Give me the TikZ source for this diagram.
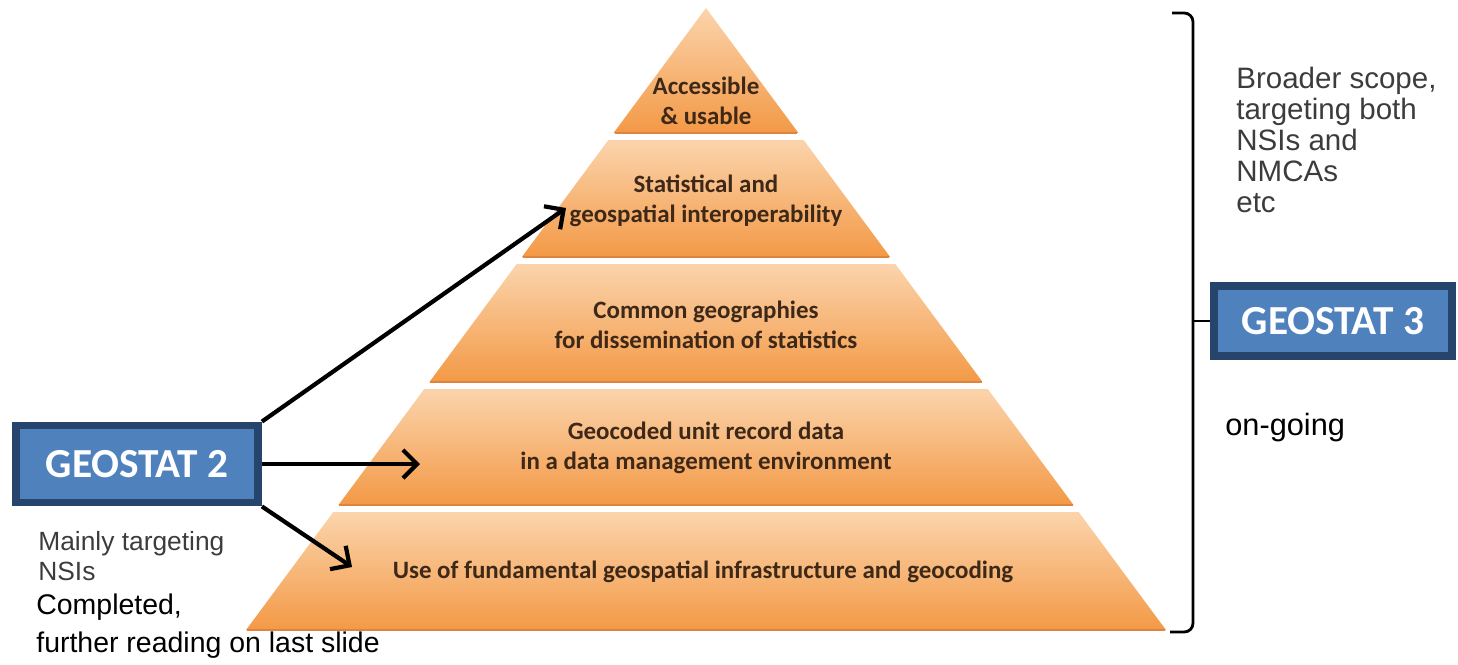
\documentclass[tikz,border=0pt]{standalone}
\usepackage{fontspec}
\setmainfont{Liberation Sans}
\newfontfamily\calfont{Carlito}
\usetikzlibrary{arrows.meta,positioning}

\definecolor{bandtop}{RGB}{251,212,172}
\definecolor{bandmid}{RGB}{247,176,104}
\definecolor{bandbot}{RGB}{243,153,70}
\definecolor{bandedge}{RGB}{222,132,60}
\definecolor{bandtxt}{RGB}{62,40,24}
\definecolor{geofill}{RGB}{79,129,189}
\definecolor{geoline}{RGB}{38,68,108}
\definecolor{notegray}{RGB}{60,60,60}

\begin{document}
\begin{tikzpicture}[x=0.02cm,y=-0.02cm,
  band/.style={top color=bandtop, middle color=bandmid, bottom color=bandbot, draw=none},
  bandtext/.style={font=\calfont\bfseries\fontsize{14.2}{17}\selectfont, text=bandtxt, align=center},
  geobox/.style={draw=geoline, line width=4.5pt, fill=geofill, text=white, inner sep=0pt,
    font=\calfont\bfseries\fontsize{23.5}{28}\selectfont},
  link/.style={-{Straight Barb[length=8pt,width=16pt]}, line width=2.4pt},
  note/.style={align=left, anchor=west, inner sep=0pt}]

\useasboundingbox (0,0) rectangle (1458,664);

% ==== Pyramid ====
% bands: name / top y / bottom y
\foreach \name/\ytop/\ybot in {B1/8/133, B2/140/257, B3/264/382, B4/389/505, B5/512/630} {
    \pgfmathsetmacro\wt{(\ytop-8)*0.7395}
    \pgfmathsetmacro\wb{(\ybot-8)*0.7395}
    \shade[band] ({706-\wt},\ytop) -- ({706+\wt},\ytop) -- ({706+\wb},\ybot) -- ({706-\wb},\ybot) -- cycle;
    \draw[bandedge, line width=0.8pt] ({706-\wb+1},\ybot) -- ({706+\wb-1},\ybot);
}

% band texts
\node[bandtext] (access) at (706,101) {Accessible\\\& usable};
\node[bandtext] (interop) at (706,201) {Statistical and\\geospatial interoperability};
\node[bandtext] (common) at (706,325) {Common geographies\\for dissemination of statistics};
\node[bandtext] (geocoded) at (706,448) {Geocoded unit record data\\in a data management environment};
\node[bandtext] (fundamental) at (703,572) {Use of fundamental geospatial infrastructure and geocoding};

% ==== GEOSTAT 2 ====
\node[geobox, minimum width=4.84cm, minimum height=1.54cm] (g2) at (137,464) {GEOSTAT 2};

\coordinate (t2) at (566,208);
\coordinate (t4) at (420,464);
\coordinate (t5) at (352,567);

\draw[link] (g2.north east) -- (t2);
\draw[link] (g2.east) -- (t4);
\draw[link] (g2.south east) -- (t5);

\node[note, text=notegray, font=\fontsize{15}{17.5}\selectfont] (target2) at (38,556) {Mainly targeting\\NSIs};
\node[note, font=\fontsize{16.2}{21.5}\selectfont] (done) at (36,626) {Completed,\\further reading on last slide};

% ==== GEOSTAT 3 ====
\node[geobox, minimum width=4.76cm, minimum height=1.4cm] (g3) at (1333,321) {GEOSTAT 3};

% bracket round the pyramid
\draw[line width=1.6pt, rounded corners=5pt] (1172,13) -- (1193,13) -- (1193,632) -- (1170,632);
\draw[line width=1.6pt] (1193,321) -- (g3.west);

\node[note, text=notegray, font=\fontsize{16.8}{17.6}\selectfont] (scope) at (1236,140) {Broader scope,\\targeting both\\NSIs and\\NMCAs\\etc};
\node[note, font=\fontsize{17.5}{20}\selectfont] (ongoing) at (1225,428) {on-going};

\end{tikzpicture}
\end{document}
